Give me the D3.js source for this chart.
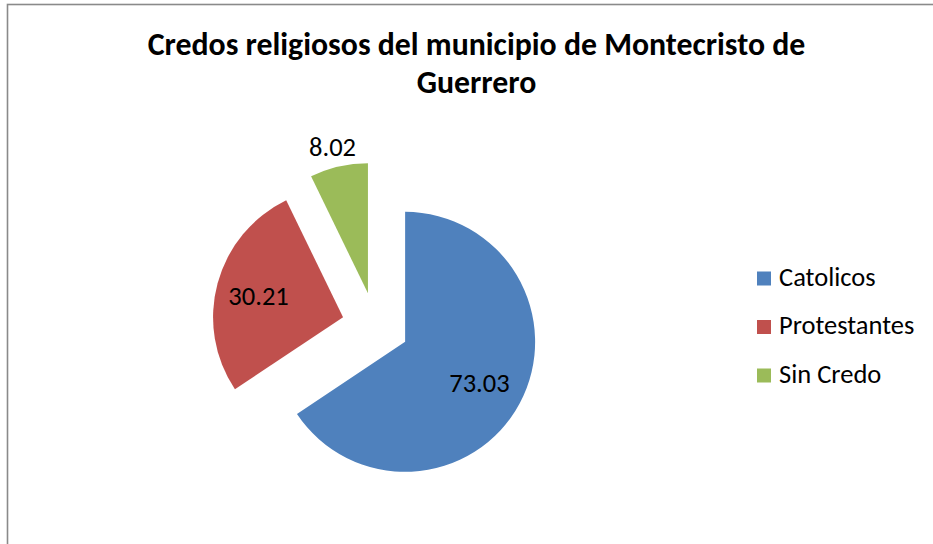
<!DOCTYPE html>
<html>
<head>
<meta charset="utf-8">
<script src="https://cdn.jsdelivr.net/npm/d3@7"></script>
<style>
  html, body { margin: 0; padding: 0; background: #fff; }
  svg { display: block; }
  text { font-family: Carlito, Calibri, Lato, "Open Sans", sans-serif; fill: #000; }
</style>
</head>
<body>
<svg id="chart" width="933" height="544"></svg>
<script>
const categories = ["Catolicos", "Protestantes", "Sin Credo"];
const values = [73.03, 30.21, 8.02];
const labels = ["73.03", "30.21", "8.02"];
const colors = ["#4F81BD", "#C0504D", "#9BBB59"];
const titleLines = ["Credos religiosos del municipio de Montecristo de", "Guerrero"];

const svg = d3.select("#chart");
const W = 933, H = 544;

// chart area border
svg.append("rect")
  .attr("x", 7.5).attr("y", 4.5)
  .attr("width", W + 20).attr("height", H + 20)
  .attr("fill", "#fff")
  .attr("stroke", "#8a8a8a")
  .attr("stroke-width", 1.6);

// title
const title = svg.append("g");
titleLines.forEach((t, i) => {
  title.append("text")
    .attr("x", 476.5)
    .attr("y", 54.5 + i * 38.5)
    .attr("text-anchor", "middle")
    .attr("font-weight", "bold")
    .attr("font-size", 31.8)
    .text(t);
});

// pie
const cx = 375.5, cy = 326, r = 130, explode = 33.6;
const pie = d3.pie().sort(null).value(d => d);
const arcs = pie(values);
const arc = d3.arc().innerRadius(0).outerRadius(r);
const labelArcIn = d3.arc().innerRadius(86).outerRadius(86);
const labelArcOut = d3.arc().innerRadius(151).outerRadius(151);

const g = svg.append("g").attr("transform", `translate(${cx},${cy})`);

const slices = g.selectAll("g.slice").data(arcs).enter().append("g")
  .attr("class", "slice")
  .attr("transform", d => {
    const a = (d.startAngle + d.endAngle) / 2;
    return `translate(${explode * Math.sin(a)},${-explode * Math.cos(a)})`;
  });

slices.append("path")
  .attr("d", arc)
  .attr("fill", (d, i) => colors[i]);

slices.append("text")
  .attr("transform", (d, i) => {
    const c = (i === 2 ? labelArcOut : labelArcIn).centroid(d);
    return `translate(${c[0] - 1.5},${c[1] + 1.5})`;
  })
  .attr("text-anchor", "middle")
  .attr("dy", "0.32em")
  .attr("font-size", 26.5)
  .text((d, i) => labels[i]);

// legend
const legend = svg.append("g");
const ly = [285.5, 334, 382.5];
categories.forEach((c, i) => {
  legend.append("rect")
    .attr("x", 757).attr("y", ly[i] - 14)
    .attr("width", 14).attr("height", 14)
    .attr("fill", colors[i]);
  legend.append("text")
    .attr("x", 779).attr("y", ly[i])
    .attr("font-size", 26.5)
    .text(c);
});
</script>
</body>
</html>
